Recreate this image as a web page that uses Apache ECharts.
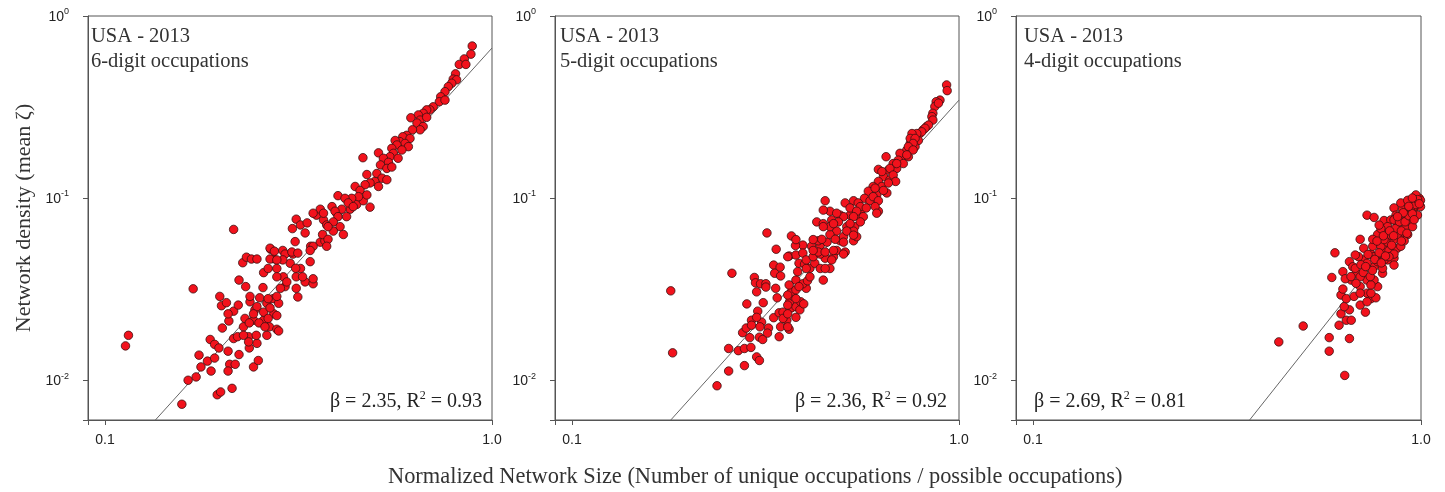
<!DOCTYPE html>
<html>
<head>
<meta charset="utf-8">
<script src="https://cdn.jsdelivr.net/npm/echarts@6/dist/echarts.min.js"></script>
<style>
  body{margin:0;background:#fff;}
  #chart{width:1445px;height:492px;}
</style>
</head>
<body>
<div id="chart"></div>
<script>
// points, [size, density]
let sixDigit = [
  [0.113,0.0154],[0.115,0.0176],[0.169,0.0317],[0.158,0.00736],[0.164,0.00997],[0.172,0.0104],[0.175,0.0137],[0.177,0.0118],[0.184,0.0127],[0.188,0.0112],
  [0.192,0.0132],[0.187,0.0167],[0.192,0.0157],[0.197,0.0150],[0.195,0.0083],[0.199,0.0086],[0.213,0.0090],[0.198,0.0288],[0.200,0.0256],[0.206,0.0266],
  [0.215,0.0239],[0.221,0.0258],[0.201,0.0193],[0.209,0.0211],[0.208,0.0144],[0.215,0.0169],[0.210,0.0122],[0.217,0.0122],[0.222,0.0138],[0.220,0.0173],
  [0.228,0.0196],[0.230,0.0218],[0.235,0.0173],[0.236,0.0150],[0.242,0.0118],[0.249,0.0128],[0.247,0.0159],[0.262,0.0176],[0.231,0.0326],[0.222,0.0354],
  [0.227,0.0441],[0.232,0.0473],[0.239,0.0462],[0.247,0.0462],[0.237,0.0269],[0.244,0.0243],[0.251,0.0283],[0.242,0.0213],[0.257,0.0213],[0.266,0.0196],
  [0.257,0.0389],[0.256,0.0322],[0.262,0.0264],[0.272,0.0280],[0.281,0.0264],[0.278,0.0190],[0.273,0.0231],[0.268,0.0523],[0.272,0.0464],[0.288,0.0515],
  [0.278,0.0410],[0.289,0.0369],[0.292,0.0326],[0.301,0.0438],[0.306,0.0492],[0.312,0.0369],[0.315,0.0286],[0.320,0.0410],[0.329,0.0346],[0.339,0.0447],
  [0.345,0.0338],[0.340,0.0543],[0.310,0.0576],[0.360,0.0572],[0.370,0.0582],[0.215,0.0672],[0.312,0.0765],[0.305,0.0679],[0.320,0.0711],[0.333,0.0730],
  [0.329,0.0643],[0.352,0.0805],[0.360,0.0868],[0.367,0.0758],[0.374,0.0711],[0.365,0.0630],[0.377,0.0593],[0.374,0.0543],[0.386,0.0897],[0.397,0.0825],
  [0.405,0.0696],[0.413,0.0630],[0.430,0.0868],[0.447,0.0922],[0.465,0.0966],[0.484,0.0891],[0.389,0.0658],[0.345,0.0543],[0.267,0.0530],[0.274,0.0510],
  [0.292,0.0492],[0.304,0.0505],[0.315,0.0498],[0.339,0.0515],[0.288,0.0457],[0.311,0.0411],[0.324,0.0369],[0.345,0.0360],[0.312,0.0319],[0.267,0.0462],
  [0.278,0.0457],[0.264,0.0410],[0.278,0.0369],[0.295,0.0346],[0.284,0.0319],[0.208,0.0231],[0.237,0.0288],[0.264,0.0280],[0.278,0.0288],[0.247,0.0253],
  [0.242,0.0231],[0.257,0.0236],[0.267,0.0249],[0.264,0.0218],[0.278,0.0226],[0.250,0.0206],[0.259,0.0196],[0.281,0.0186],[0.236,0.0206],[0.228,0.0176],
  [0.246,0.0176],[0.235,0.0162],[0.208,0.0112],
  [0.889,0.684],[0.882,0.617],[0.848,0.581],[0.823,0.542],[0.856,0.542],[0.805,0.481],[0.794,0.450],[0.810,0.446],[0.787,0.427],[0.771,0.409],
  [0.756,0.384],[0.737,0.360],[0.731,0.338],[0.756,0.345],[0.705,0.317],[0.691,0.305],[0.678,0.305],[0.664,0.292],[0.645,0.286],[0.617,0.276],
  [0.652,0.268],[0.678,0.2775],[0.640,0.258],[0.664,0.247],[0.652,0.237],[0.623,0.237],[0.602,0.221],[0.588,0.217],[0.614,0.2125],[0.578,0.204],
  [0.596,0.1995],[0.562,0.207],[0.568,0.1956],[0.608,0.1915],[0.585,0.1836],[0.551,0.1874],[0.556,0.176],[0.545,0.1686],[0.572,0.1653],[0.464,0.1665],
  [0.509,0.177],[0.524,0.1653],[0.540,0.157],[0.515,0.152],[0.535,0.1454],[0.551,0.148],[0.475,0.1346],[0.504,0.1363],[0.520,0.1285],[0.535,0.126],
  [0.498,0.1233],[0.484,0.121],[0.470,0.1183],[0.509,0.1157],[0.443,0.1157],[0.456,0.110],[0.475,0.104],[0.452,0.1017],[0.434,0.0996],[0.400,0.103],
  [0.417,0.0996],[0.425,0.094],[0.438,0.0897],[0.409,0.0868],[0.393,0.0846],[0.400,0.079],[0.421,0.079],[0.389,0.0739],[0.377,0.0696],[0.345,0.0825],
  [0.367,0.0825]
]
let fiveDigit = [
  [0.180,0.0309],[0.182,0.0141],[0.259,0.0386],[0.237,0.0093],[0.254,0.0112],[0.279,0.0120],[0.254,0.0149],[0.269,0.0145],[0.279,0.0149],[0.290,0.0151],
  [0.300,0.0134],[0.305,0.0128],[0.276,0.0182],[0.282,0.0193],[0.291,0.0213],[0.283,0.0262],[0.302,0.0239],[0.309,0.0208],[0.305,0.0172],[0.311,0.0167],
  [0.322,0.0193],[0.320,0.0181],[0.343,0.0173],[0.364,0.0190],[0.346,0.0196],[0.332,0.0220],[0.343,0.0234],[0.359,0.0213],[0.339,0.0283],[0.336,0.0319],
  [0.312,0.0266],[0.296,0.0366],[0.298,0.0342],[0.307,0.0338],[0.317,0.0338],[0.300,0.0305],[0.317,0.0324],[0.332,0.0428],[0.334,0.0386],[0.346,0.0373],
  [0.337,0.0523],[0.351,0.0236],[0.351,0.0218],[0.369,0.0249],[0.379,0.0253],[0.388,0.0243],[0.365,0.0269],[0.373,0.0288],[0.390,0.0269],[0.397,0.0262],
  [0.369,0.0305],[0.379,0.0313],[0.403,0.0319],[0.364,0.0333],[0.379,0.0354],[0.395,0.0338],[0.406,0.0351],[0.364,0.0480],[0.379,0.0486],[0.386,0.0438],
  [0.399,0.0433],[0.412,0.0411],[0.424,0.0438],[0.438,0.0410],[0.446,0.0354],[0.464,0.0410],[0.451,0.0467],[0.474,0.0476],[0.483,0.0515],[0.508,0.0505],
  [0.395,0.0551],[0.416,0.0543],[0.438,0.0551],[0.456,0.0572],[0.378,0.0548],[0.433,0.0582],[0.493,0.0582],[0.319,0.0643],[0.369,0.0619],[0.361,0.0476],
  [0.395,0.0498],[0.345,0.0417],[0.361,0.0293],[0.386,0.0326],[0.412,0.0369],[0.383,0.0394],[0.403,0.0410],[0.403,0.0457],[0.420,0.0476],[0.438,0.0492],
  [0.451,0.0410],[0.469,0.0457],[0.474,0.0515],[0.420,0.0591],[0.379,0.0591],[0.300,0.0221],[0.291,0.0200],[0.288,0.0171],[0.306,0.0196],[0.361,0.0231],
  [0.361,0.0196],[0.361,0.0258],[0.379,0.0221],[0.379,0.0280],[0.451,0.0966],[0.464,0.0846],[0.429,0.0739],[0.446,0.0723],[0.469,0.0758],[0.493,0.0805],
  [0.508,0.0940],[0.534,0.0966],[0.513,0.0696],[0.483,0.0658],[0.503,0.0613],[0.464,0.0630],[0.442,0.0593],[0.523,0.0805],[0.538,0.0696],[0.534,0.0582],
  [0.544,0.0613],
  [0.929,0.418],[0.932,0.389],[0.893,0.345],[0.873,0.338],[0.866,0.318],[0.856,0.292],[0.851,0.280],[0.825,0.247],[0.808,0.237],[0.792,0.226],
  [0.770,0.221],[0.756,0.217],[0.785,0.207],[0.748,0.1995],[0.733,0.1836],[0.770,0.1915],[0.718,0.1686],[0.704,0.176],[0.740,0.1686],[0.697,0.1614],
  [0.718,0.1546],[0.648,0.1686],[0.676,0.1546],[0.657,0.1424],[0.690,0.1454],[0.619,0.1436],[0.638,0.1311],[0.663,0.126],[0.619,0.1233],[0.600,0.1157],
  [0.632,0.1157],[0.583,0.109],[0.613,0.104],[0.651,0.1066],[0.570,0.0996],[0.589,0.0966],[0.619,0.0846],[0.549,0.094],[0.561,0.0868],[0.544,0.0805],
  [0.523,0.0882],[0.503,0.079],[0.483,0.0825],[0.446,0.0858],[0.488,0.0739],[0.464,0.0696],[0.446,0.0696],[0.534,0.0658],
  [0.885,0.332],[0.856,0.268],[0.834,0.2516],[0.817,0.2416],[0.801,0.231],[0.778,0.226],[0.756,0.226],[0.748,0.2125],[0.770,0.2125],[0.761,0.1995],
  [0.740,0.1915],[0.761,0.1836],[0.733,0.1725],[0.690,0.1546],[0.663,0.1454],[0.632,0.1398],[0.676,0.1337],[0.686,0.1233],[0.657,0.1209],[0.607,0.1133],
  [0.638,0.110],[0.600,0.1017],[0.619,0.0966],[0.556,0.0897],[0.576,0.0882],[0.607,0.0897],[0.613,0.0825],[0.544,0.0846],[0.566,0.079],[0.534,0.079],
  [0.556,0.0739],[0.523,0.0723],[0.474,0.0723],[0.513,0.0658],[0.534,0.0625],[0.479,0.0593],[0.503,0.0572],[0.433,0.0505],[0.451,0.0505],[0.420,0.0515],
  [0.503,0.0492]
]
let fourDigit = [
  [0.430,0.0162],[0.497,0.0198],[0.600,0.0500],[0.589,0.0366],[0.580,0.0171],[0.580,0.0144],[0.654,0.0169],[0.636,0.0106],[0.615,0.0200],[0.642,0.0213],
  [0.661,0.0213],[0.622,0.0231],[0.654,0.0243],[0.634,0.0253],[0.622,0.0293],[0.642,0.0280],[0.629,0.0316],[0.672,0.0288],[0.697,0.0258],[0.719,0.0236],
  [0.654,0.0447],[0.629,0.0394],[0.667,0.0419],[0.661,0.0354],[0.682,0.0386],[0.697,0.0326],[0.726,0.0354],[0.743,0.0280],[0.765,0.0283],[0.726,0.0300],
  [0.773,0.0326],[0.796,0.0386],[0.757,0.0419],[0.712,0.0457],[0.690,0.0476],[0.743,0.0492],[0.788,0.0486],[0.820,0.0457],[0.852,0.0467],[0.852,0.0428],
  [0.803,0.0530],[0.869,0.0530],[0.677,0.0486],[0.726,0.0269],[0.743,0.0300],[0.697,0.0593],[0.726,0.0805],[0.757,0.0782],[0.803,0.0752],[0.852,0.0882],
  [0.773,0.0630],[0.812,0.0643],[0.638,0.0360],[0.712,0.0530],[0.751,0.0543],[0.677,0.0411],[0.726,0.0438],[0.773,0.0447],[0.796,0.0411],[0.803,0.0457],
  [0.697,0.0369],[0.757,0.0354],[0.743,0.0333],[0.697,0.0300],[0.788,0.0543],[0.820,0.0572],[0.827,0.0515],[0.852,0.0591],[0.836,0.0625],[0.869,0.0658],
  [0.887,0.0613],[0.914,0.0696],[0.869,0.0723],[0.905,0.0790],[0.942,0.0758],[0.924,0.0846],[0.960,0.0882],[0.979,0.0940],[0.951,0.0966],[0.924,0.0922],
  [0.990,0.0996],[0.960,0.0996],[0.997,0.0971],[0.896,0.0868],[0.862,0.0805],[0.836,0.0758],[0.820,0.0696],[0.803,0.0591],[0.757,0.0476],[0.751,0.0593],
  [0.788,0.0679],[0.887,0.0543],[0.924,0.0630],[0.951,0.0696],[0.979,0.0805],[0.997,0.0897],[0.970,0.104],[0.852,0.0492],[0.827,0.0476],[0.905,0.0582],
  [0.887,0.0940],[0.924,0.0971],[0.852,0.0758],[0.905,0.0825],[0.960,0.0897],[0.869,0.0630],
  [0.78,0.050],[0.80,0.062],[0.84,0.055],[0.86,0.068],[0.88,0.074],[0.89,0.066],[0.91,0.074],[0.93,0.080],[0.94,0.088],[0.95,0.082],
  [0.97,0.092],[0.98,0.098],[0.83,0.066],[0.81,0.048],[0.76,0.046],[0.73,0.049],[0.70,0.043],[0.71,0.039],[0.74,0.037],[0.79,0.044],
  [0.85,0.062],[0.90,0.083],[0.93,0.090],[0.96,0.076],[0.87,0.079],[0.99,0.093],[0.78,0.071],[0.95,0.100],[0.68,0.034],[0.66,0.037],
  [0.75,0.040],[0.72,0.042],[0.77,0.058],[0.92,0.064],[0.89,0.058]
]
let panelNames = ['6-digit occupations', '5-digit occupations', '4-digit occupations']
let betas = [2.35, 2.36, 2.69]
let rSquared = [0.93, 0.92, 0.81]
let fitAtOne = [0.667, 0.345, 0.093]   // fitted density at size 1.0
let xTickText = {'-1': '0.1', '0': '1.0'}
let xMin = 0.0904, xMax = 1, yMin = 0.00603, yMax = 1

let allPoints = [sixDigit, fiveDigit, fourDigit]
let serif = 'Liberation Serif'
let sans = 'Liberation Sans'

let grids = [
  {left: 88, top: 16, width: 404, height: 404},
  {left: 555, top: 16, width: 404, height: 404},
  {left: 1016, top: 16, width: 405, height: 404}
]

function powerOf(v) {
  let e = Math.log10(v)
  if (Math.abs(e - Math.round(e)) > 1e-6) return null
  return Math.round(e)
}

let xAxes = [], yAxes = [], series = [], titles = []
grids.forEach((g, i) => {
  g.show = true
  g.borderColor = '#555'
  g.borderWidth = 1
  xAxes.push({
    type: 'log', logBase: 10, gridIndex: i, min: xMin, max: xMax,
    splitLine: {show: false},
    axisLine: {show: true, lineStyle: {color: '#555', width: 1}},
    axisTick: {show: true, length: 5, lineStyle: {color: '#555'}},
    axisLabel: {
      margin: 13, fontSize: 14, fontFamily: sans, color: '#222',
      formatter: v => { let e = powerOf(v); return e === null ? '' : (xTickText[e] || '') }
    }
  })
  yAxes.push({
    type: 'log', logBase: 10, gridIndex: i, min: yMin, max: yMax,
    name: i === 0 ? 'Network density (mean ζ)' : '',
    nameLocation: 'middle', nameRotate: 90, nameGap: 53,
    nameTextStyle: {fontFamily: serif, fontSize: 22, color: '#333'},
    splitLine: {show: false},
    axisLine: {show: true, lineStyle: {color: '#555', width: 1}},
    axisTick: {show: true, length: 5, lineStyle: {color: '#555'}},
    axisLabel: {
      margin: 19, fontFamily: sans, color: '#222',
      formatter: v => { let e = powerOf(v); return e === null ? '' : '{b|10}{s|' + e + '}' },
      rich: {
        b: {fontSize: 14, fontFamily: sans, color: '#222', lineHeight: 17, verticalAlign: 'bottom'},
        s: {fontSize: 9, fontFamily: sans, color: '#222', verticalAlign: 'top'}
      }
    }
  })
  // fitted power law: density = a * size^beta
  let a = fitAtOne[i], b = betas[i]
  let x0 = Math.pow(yMin / a, 1 / b)
  series.push({
    type: 'line', xAxisIndex: i, yAxisIndex: i, z: 1, silent: true,
    showSymbol: false, symbol: 'none',
    lineStyle: {color: '#666', width: 1},
    data: [[x0, yMin], [xMax, a * Math.pow(xMax, b)]]
  })
  series.push({
    type: 'scatter', xAxisIndex: i, yAxisIndex: i, z: 2,
    symbol: 'circle', symbolSize: 8.5,
    itemStyle: {color: '#f2121c', borderColor: '#3a1010', borderWidth: 0.8, opacity: 1},
    data: allPoints[i]
  })
})

let headLeft = [91, 560, 1024]
let headStyle = {fontFamily: serif, fontSize: 20.5, fontWeight: 'normal', color: '#333', lineHeight: 25}
panelNames.forEach((n, i) => {
  titles.push({text: 'USA - 2013\n' + n, left: headLeft[i], top: 24, padding: 0, textStyle: headStyle})
})
let fitRich = {
  n: {fontFamily: serif, fontSize: 20, fontWeight: 'normal', color: '#222', lineHeight: 22, verticalAlign: 'bottom'},
  sup: {fontFamily: serif, fontSize: 12, fontWeight: 'normal', color: '#222', verticalAlign: 'top'}
}
function fitText(i) {
  return '{n|β = ' + betas[i].toFixed(2) + ', R}{sup|2}{n| = ' + rSquared[i].toFixed(2) + '}'
}
let fitStyle = {fontWeight: 'normal', rich: fitRich}
titles.push({text: fitText(0), right: 1445 - 482, top: 390, padding: 0, textStyle: fitStyle})
titles.push({text: fitText(1), right: 1445 - 947, top: 390, padding: 0, textStyle: fitStyle})
titles.push({text: fitText(2), left: 1034, top: 390, padding: 0, textStyle: fitStyle})
titles.push({
  text: 'Normalized Network Size (Number of unique occupations / possible occupations)',
  left: 388, top: 466, padding: 0,
  textStyle: {fontFamily: serif, fontSize: 22.4, fontWeight: 'normal', color: '#333'}
})

let chart = echarts.init(document.getElementById('chart'))
chart.setOption({
  backgroundColor: '#fff',
  animation: false,
  title: titles,
  grid: grids,
  xAxis: xAxes,
  yAxis: yAxes,
  series: series
})
</script>
</body>
</html>
